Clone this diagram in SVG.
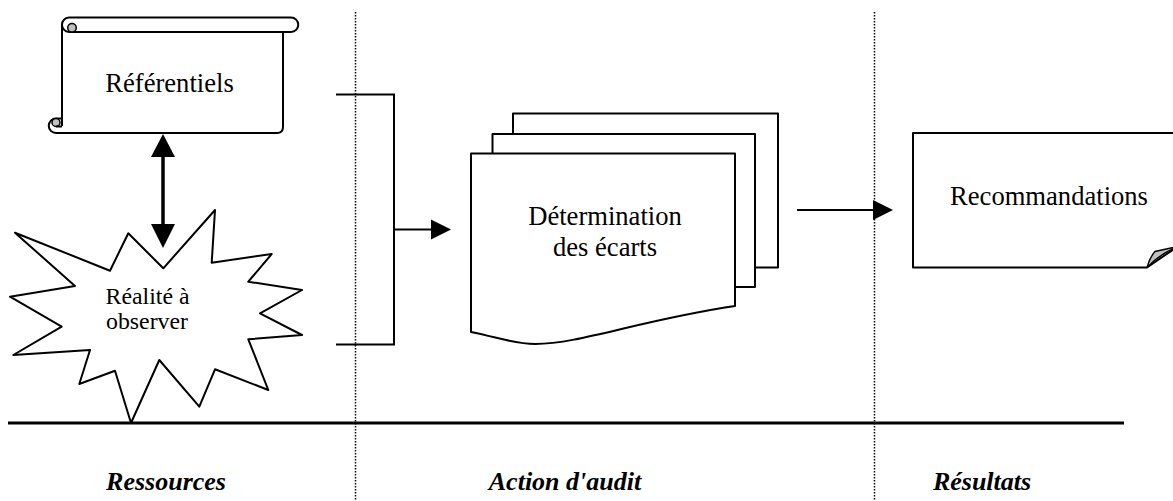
<svg xmlns="http://www.w3.org/2000/svg" width="1173" height="501" viewBox="0 0 1173 501">
<style>
  .shape { fill: #ffffff; stroke: #000000; stroke-width: 2; stroke-linejoin: round; }
  .line { fill: none; stroke: #000000; stroke-width: 2; }
  .thick { fill: none; stroke: #000000; stroke-width: 3; }
  .head { fill: #000000; stroke: none; }
  .gray { fill: #c0c0c0; stroke: #000000; stroke-width: 1.5; }
  .dot { fill: none; stroke: #000000; stroke-width: 1.5; stroke-dasharray: 1.5 1.5; }
  text { font-family: 'Liberation Serif', 'Times New Roman', Times, serif; fill: #000000; text-anchor: middle; }
  .lbl { font-size: 26.6px; }
  .small { font-size: 23.8px; }
  .zone { font-size: 26px; font-weight: bold; font-style: italic; }
</style>

<g id="separators">
  <line class="dot" x1="355.5" y1="12" x2="355.5" y2="501"/>
  <line class="dot" x1="874.5" y1="12" x2="874.5" y2="501"/>
  <line class="thick" x1="8" y1="423" x2="1124" y2="423"/>
</g>

<g id="referentiels">
  <path class="shape" d="M62,126 V25 A7.25,7.25 0 0 1 69,17.5 H291 A7.25,7.25 0 0 1 291,32 H283 V127 Q283,133 277,133 H56 A7.25,7.25 0 0 1 56,118.5 H62"/>
  <line class="line" x1="69" y1="32" x2="291" y2="32"/>
  <path class="line" d="M69,32 A7.25,7.25 0 0 1 62,25"/>
  <path class="gray" d="M72,23.5 A4.25,4.25 0 0 1 72,32 A4.25,4.25 0 0 1 72,23.5 Z"/>
  <path class="gray" d="M56,118.5 A4,4 0 0 0 56,126.5 A4,4 0 0 0 56,118.5 Z"/>
  <line class="line" x1="56" y1="126.5" x2="62" y2="126.5"/>
  <text class="lbl" x="169.5" y="92">Référentiels</text>
</g>

<g id="realite">
  <polygon class="shape" points="215,210 211.7,262.7 271.7,254 248.3,281.7 302,290 260,313.3 302,335 248.3,339.3 268.3,390 215,369.3 199.3,406.7 159.3,360 131,423 115,370.7 79.3,384 90,350 13.3,355 61.7,326.7 10,296.7 75,286 15,232.7 110,270.7 128.3,233.3 163.3,268.3"/>
  <text class="lbl small" x="147.5" y="304">Réalité à</text>
  <text class="lbl small" x="147" y="329">observer</text>
</g>

<g id="determination">
  <rect class="shape" x="513" y="113.5" width="265" height="154"/>
  <rect class="shape" x="492.5" y="134" width="262.5" height="153"/>
  <path class="shape" d="M471,153.5 H735 V306 C640,320 580,344 535,344 C515,344 500,338 471,332 Z"/>
  <text class="lbl" x="605" y="225">Détermination</text>
  <text class="lbl" x="605" y="256">des écarts</text>
</g>

<g id="recommandations">
  <path class="shape" d="M913,133 H1190 V238 L1147,267.5 H913 Z"/>
  <path class="gray" d="M1147,267.5 Q1150,257 1155,251.5 L1180,246 Q1162,252 1147,267.5 Z"/>
  <text class="lbl" x="1049" y="205">Recommandations</text>
</g>

<g id="connectors">
  <line class="thick" x1="163" y1="155" x2="163" y2="226" style="stroke-width:3.5"/>
  <polygon class="head" points="163,134 151,157 175,157"/>
  <polygon class="head" points="163,248 151,224 175,224"/>
  <polyline class="line" points="336,94.5 394,94.5 394,344.5 336,344.5"/>
  <line class="line" x1="394" y1="229.5" x2="432" y2="229.5"/>
  <polygon class="head" points="451,229.5 431,219.5 431,239.5"/>
  <line class="line" x1="797" y1="210" x2="874" y2="210"/>
  <polygon class="head" points="893,210 873,200 873,220"/>
</g>

<g id="zones">
  <text class="zone" x="166" y="490">Ressources</text>
  <text class="zone" x="565" y="490">Action d'audit</text>
  <text class="zone" x="982" y="490">Résultats</text>
</g>
</svg>
